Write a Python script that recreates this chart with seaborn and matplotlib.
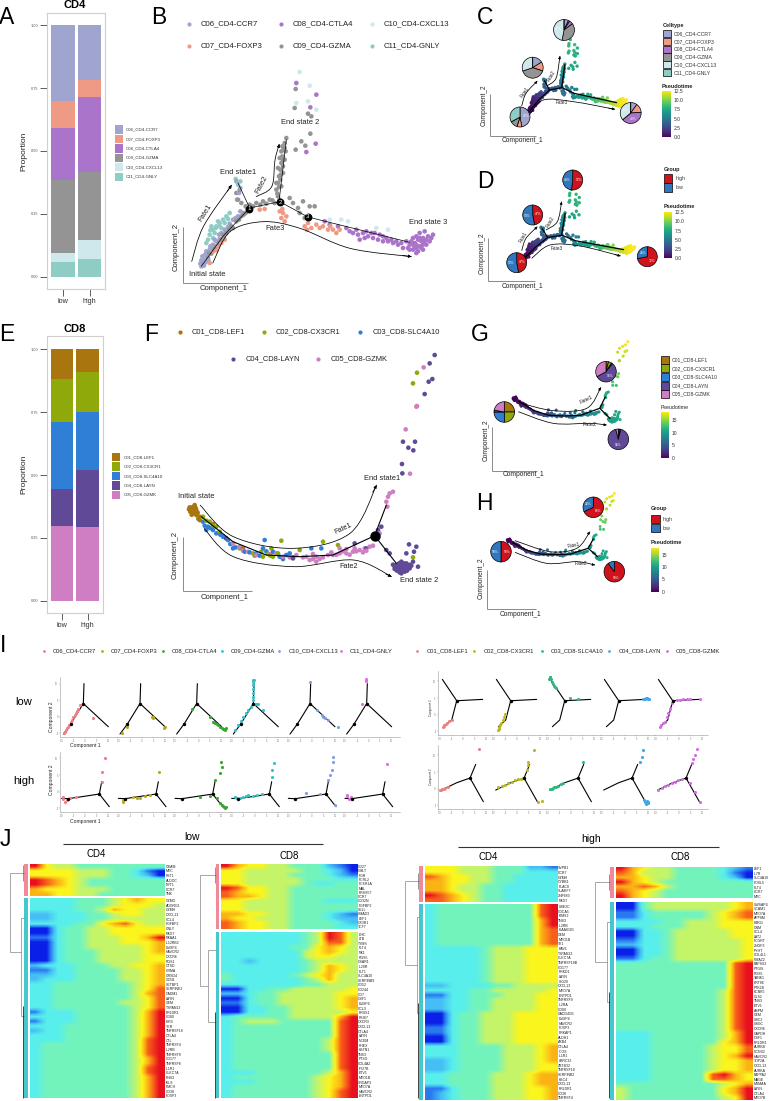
import numpy as np, pandas as pd
import matplotlib
matplotlib.use('Agg')
import matplotlib.pyplot as plt
import seaborn as sns
from matplotlib.colors import LinearSegmentedColormap, Normalize
from matplotlib.cm import ScalarMappable
from matplotlib.patches import Rectangle, PathPatch
from matplotlib.path import Path

sns.set_style('white')
plt.rcParams['font.family'] = ['Liberation Sans', 'DejaVu Sans']
W, H = 770, 1101

# ---------- stacked proportions ----------
GROUPS = ['low', 'high']
CD4_TYPES = ['C06_CD4-CCR7', 'C07_CD4-FOXP3', 'C08_CD4-CTLA4', 'C09_CD4-GZMA', 'C10_CD4-CXCL13', 'C11_CD4-GNLY']
CD4_COLORS = ['#9fa5cf', '#ef9a84', '#a974c9', '#949494', '#cfe8ec', '#8fcdc4']
CD4_LOW = [1.00, 0.70, 0.59, 0.385, 0.095, 0.06]
CD4_HIGH = [1.00, 0.782, 0.716, 0.415, 0.147, 0.072]
CD8_TYPES = ['C01_CD8-LEF1', 'C02_CD8-CX3CR1', 'C03_CD8-SLC4A10', 'C04_CD8-LAYN', 'C05_CD8-GZMK']
CD8_COLORS = ['#a9750f', '#8fa80a', '#2f7fd6', '#604a97', '#d07ec3']
CD8_LOW = [1.00, 0.883, 0.711, 0.443, 0.297]
CD8_HIGH = [1.00, 0.91, 0.75, 0.52, 0.295]

# ---------- CD4 trajectory cells (component 1, component 2, pseudotime) ----------
C06_CELLS = [(55,50,0.0),(60,60,0.2),(65,70,0.3),(58,80,0.3),(72,80,0.5),(70,95,0.5),(80,100,0.7),(90,115,0.9),(100,125,1.1),(115,150,1.4),
             (125,160,1.6),(140,178,2.0),(150,190,2.2),(165,200,2.6),(180,210,3.0),(195,220,3.3),(162,250,3.8),(168,270,4.2),(172,285,4.5),(160,305,4.9),
             (52,58,0.1),(63,52,0.1),(76,68,0.4),(85,88,0.7),(68,62,0.3),(110,132,1.3),(55,68,0.2),(66,85,0.4),(82,110,0.8),(95,130,1.1),(108,145,1.4),(135,168,1.9),(158,195,2.5),(172,215,3.0)]
C07_CELLS = [(230,220,3.8),(245,222,4.0),(300,210,4.6),(295,195,4.6),(305,185,4.9),(365,170,5.8),(375,180,5.9),(400,175,6.3),(420,170,6.6),(435,160,6.9),
             (450,160,7.1),(470,160,7.5),(460,150,7.3),(90,95,0.8),(105,110,1.1),(115,120,1.3),(80,60,0.5),(310,200,4.8),(385,165,6.0),(290,215,4.5),(298,222,4.4),(372,160,5.8),(410,165,6.5),(442,170,7.0),(100,98,1.0),(125,130,1.5)]
C08_CELLS = [(425,185,6.7),(440,175,7.0),(465,170,7.4),(490,165,7.8),(510,150,8.2),(525,145,8.5),(540,150,8.7),(555,140,9.0),(570,135,9.3),(585,130,9.6),
             (600,125,9.9),(615,125,10.2),(630,120,10.5),(645,115,10.8),(660,105,11.1),(675,105,11.4),(690,100,11.7),(700,105,12.0),(710,110,12.2),(720,115,12.4),
             (695,120,11.9),(705,130,12.1),(720,135,12.3),(735,140,12.5),(750,145,12.5),(725,155,12.4),(710,150,12.2),(690,135,11.9),(700,90,12.0),(720,100,12.3),
             (740,125,12.5),(680,115,11.5),(530,130,8.5),(550,155,8.9),(575,150,9.4),(600,140,9.9),(715,125,12.3),(730,115,12.4),(705,95,12.1),(690,115,11.8),
             (340,600,8.3),(400,565,8.2),(382,527,8.0),(370,393,7.4),(398,418,7.6),(500,155,8.0),(520,160,8.4),(545,135,8.8),(565,150,9.2),(590,145,9.7),(610,135,10.1),(625,130,10.4),(640,125,10.7),(655,120,11.0),(670,125,11.3),
             (685,125,11.6),(700,115,11.9),(715,105,12.2),(725,125,12.4),(710,135,12.2),(695,105,11.9),(730,130,12.4),(745,135,12.5),(700,140,12.0),(680,100,11.5)]
C09_CELLS = [(62,55,0.1),(75,75,0.4),(85,90,0.7),(100,110,1.1),(115,130,1.4),(130,150,1.8),(145,170,2.2),(160,185,2.6),(175,200,3.0),(188,210,3.3),
             (285,260,4.4),(280,280,4.6),(285,300,4.9),(288,320,5.2),(292,340,5.5),(295,360,5.8),(298,380,6.1),(302,400,6.4),(305,420,6.7),(310,435,7.0),
             (300,330,5.3),(295,290,4.8),(338,582,8.3),(335,525,8.0),(375,508,7.9),(385,500,7.9),(338,400,7.3),(355,425,7.5),(367,412,7.5),(382,448,7.7),
             (160,270,4.1),(165,250,3.8),(170,280,4.4),(175,240,3.6),(188,230,3.4),(220,240,3.8),(240,245,4.0),(260,250,4.1),(275,240,4.2),(210,230,3.6),
             (320,255,4.6),(330,240,4.7),(345,225,5.0),(360,245,5.2),(380,230,5.5),(395,230,5.7),(350,210,5.1),(365,195,5.4),(292,310,5.0),(300,350,5.6),
             (290,250,4.3),(305,370,6.0),(298,410,6.5),(78,90,0.6),(120,145,1.6),(150,165,2.3),(283,268,4.5),(288,288,4.8),(280,300,4.9),(293,325,5.3),(285,345,5.5),(300,368,5.9),(290,375,6.0),(308,395,6.4),(295,395,6.3),(305,405,6.5),
             (108,120,1.2),(92,102,0.9),(122,138,1.6),(138,160,2.0),(168,190,2.8),(182,205,3.1),(200,235,3.5),(232,235,3.9),(250,238,4.1),(268,248,4.2)]
C10_CELLS = [(350,633,8.6),(380,592,8.4),(340,540,8.1),(375,545,8.2),(400,520,8.0),(495,185,7.9),(580,165,9.5),(615,160,10.2),(475,190,7.6),(440,190,7.0)]
C11_CELLS = [(80,145,1.0),(90,160,1.3),(100,170,1.6),(110,180,1.9),(120,190,2.2),(130,200,2.5),(140,210,2.8),(115,165,1.8),(95,150,1.3),(70,120,0.7),
             (158,312,5.0),(172,305,4.9),(165,295,4.7),(90,135,1.1),(105,185,1.8),(85,170,1.2),(125,180,2.2),(75,130,0.8),(82,158,1.1),(98,165,1.5),(110,170,1.8),(135,192,2.5)]
CD4_BACKBONE_MAIN = [(55,50),(120,140),(200,225),(290,244),(375,198),(680,122)]
CD4_BACKBONE_UP = [(288,244),(310,430)]
CD4_BACKBONE_SIDE = [(200,225),(165,300)]

# ---------- CD8 trajectory cells ----------
C01_CELLS = [(25,244,0.0),(33,252,0.0),(40,242,0.1),(30,232,0.1),(22,237,0.0),(40,227,0.3),(50,222,0.5),(35,257,0.0),(18,244,0.0),(50,212,0.6),(90,200,1.3),(180,127,3.0),
             (28,250,0.0),(36,236,0.1),(44,234,0.2),(26,228,0.1),(32,240,0.0),(46,216,0.5),(20,250,0.0),(38,248,0.0)]
C02_CELLS = [(60,222,0.8),(80,207,1.2),(100,192,1.6),(110,177,1.9),(150,142,2.7),(170,127,3.2),(210,112,3.9),(235,117,4.5),(265,127,5.0),(295,150,5.5),(350,122,6.4),(420,147,7.6),
             (465,137,8.3),(690,100,10.8),(690,622,16.3),(702,654,17.0),(270,102,5.1),(240,102,4.6),(70,210,1.0),(90,195,1.4),(255,110,4.8),(262,105,5.0),(215,105,4.1),(285,112,5.4)]
C03_CELLS = [(60,207,0.9),(75,192,1.2),(70,182,1.3),(90,182,1.6),(120,162,2.2),(135,152,2.5),(150,127,3.0),(185,117,3.5),(220,112,4.2),(245,152,4.7),(270,117,5.2),(290,102,5.6),
             (310,107,5.9),(330,100,6.2),(240,127,4.6),(100,172,1.9),(385,127,7.0),(415,127,7.5),(230,105,4.4),(320,112,6.0),(65,195,1.1),(82,188,1.4),(112,168,2.0),(128,158,2.3),(142,140,2.7),(158,130,3.1),(200,115,3.8),(250,118,4.7),(300,95,5.8)]
C04_CELLS = [(755,707,18.0),(740,682,17.6),(748,635,17.0),(737,627,16.7),(725,590,16.2),(660,447,13.9),(696,447,14.0),(676,429,13.8),(691,421,13.7),(657,380,13.2),(658,352,12.8),(595,192,9.4),
             (585,182,9.2),(678,139,10.6),(700,132,10.8),(693,117,10.7),(670,112,10.5),(705,72,10.9),(690,87,10.7),(655,87,10.4),(645,77,10.3),(640,67,10.2),(650,62,10.3),(660,72,10.4),
             (670,82,10.5),(680,67,10.6),(665,57,10.4),(655,52,10.3),(640,77,10.2),(675,72,10.5),(635,72,10.2),(650,77,10.3),(665,72,10.4),(620,112,10.0),(610,122,9.8),(130,157,2.4),
             (330,97,6.2),(515,142,8.9),(550,127,9.2),(645,65,10.3),(660,60,10.4),(670,65,10.5),(655,68,10.4),(635,65,10.2),(680,78,10.6),(648,82,10.3),(662,82,10.4),(672,60,10.5),(642,60,10.2),(655,75,10.4),(685,75,10.6),(630,78,10.1),(665,65,10.4),(650,55,10.3)]
C05_CELLS = [(722,670,17.3),(702,554,15.6),(668,484,14.5),(681,351,12.7),(630,297,11.4),(615,282,11.0),(610,267,10.7),(613,252,10.4),(590,172,9.3),(560,132,9.0),(545,127,8.9),(530,122,8.7),
             (510,117,8.4),(490,112,8.0),(470,112,7.7),(450,107,7.4),(435,107,7.1),(400,102,6.6),(380,92,6.3),(400,87,6.6),(370,102,6.2),(340,107,5.7),(300,102,5.0),(280,112,5.3),
             (220,107,4.1),(195,117,3.7),(170,132,3.2),(150,142,2.7),(515,127,8.5),(470,127,7.8),(700,552,15.5),(620,292,11.2),(490,125,8.1),(540,115,8.7),(420,100,6.9),
             (445,115,7.3),(460,108,7.5),(480,118,7.9),(500,108,8.2),(520,118,8.6),(550,120,8.9),(570,135,9.1),(390,95,6.5),(410,95,6.8),(390,110,6.6),(360,100,6.0),(320,100,5.4),(260,110,4.9),(180,120,3.4)]
CD8_BACKBONE_MAIN = [(55,222),(150,147),(250,107),(350,102),(450,107),(575,165)]
CD8_BACKBONE_UP = [(575,165),(610,257)]
CD8_BACKBONE_DOWN = [(575,165),(640,82)]

# ---------- pie fractions ----------
PIE_C_ROOT = [0.47, 0.08, 0.0, 0.12, 0.0, 0.33]
PIE_C_END1 = [0.16, 0.14, 0.0, 0.40, 0.30, 0.0]
PIE_C_END2 = [0.07, 0.02, 0.06, 0.38, 0.47, 0.0]
PIE_C_END3 = [0.10, 0.14, 0.40, 0.0, 0.36, 0.0]
PIE_D_ROOT = [0.47, 0.53]
PIE_D_END1 = [0.47, 0.53]
PIE_D_END2 = [0.52, 0.48]
PIE_D_END3 = [0.72, 0.28]
PIE_G_ROOT = [0.25, 0.25, 0.25, 0.03, 0.22]
PIE_G_END1 = [0.04, 0.05, 0.02, 0.56, 0.33]
PIE_G_END2 = [0.01, 0.02, 0.01, 0.92, 0.04]
PIE_H_ROOT = [0.50, 0.50]
PIE_H_END1 = [0.68, 0.32]
PIE_H_END2 = [0.90, 0.10]
GROUP_LABELS = ['high', 'low']
GROUP_COLORS = ['#d0121b', '#2f78bd']

# ---------- panel I small multiples ----------
I_CD4_COLORS = ['#ee7f85', '#b8a820', '#3aa535', '#35c0c8', '#7f9fe0', '#e070e0']
I_CD8_COLORS = ['#f08080', '#b8b820', '#30b880', '#40a8e8', '#d070e0']
I4L_PATHS = [[(10,8),(32,38),(70,100),(72,160)], [(70,100),(145,30)]]
I4L_NODES = [(32,38),(70,100)]
I4L_CELLS = [
    [(12,10),(18,20),(25,30),(32,45),(40,58),(48,72),(55,85),(60,95),(100,55),(15,14),(22,25),(28,36),(36,50),(44,65),(52,78)],
    [(15,10),(32,35),(105,60),(110,55),(142,25),(145,28),(108,58),(30,30)],
    [(55,85),(110,60),(120,45),(135,35),(145,25),(152,22),(158,25),(140,30),(125,42),(130,38),(148,24),(155,20)],
    [(70,165),(70,145),(70,120),(72,100),(55,80),(40,60),(100,80),(25,35),(15,20),(85,98),(72,170),(70,155),(70,132),(70,110),(62,90),(48,70),(32,48),(78,100),(68,172)],
    [(70,165),(105,65),(115,55),(90,80),(155,30),(125,50),(110,60)],
    [(67,175),(68,167),(55,100),(70,100),(69,171)]]
I4H_PATHS = [[(5,40),(25,39),(65,45),(118,53),(125,90)], [(118,53),(148,15)]]
I4H_NODES = [(25,39),(118,53)]
I4H_CELLS = [
    [(8,45),(15,30),(20,35),(30,42),(48,45),(10,38),(125,90),(127,120),(136,160)],
    [(20,35),(50,43),(70,42),(100,50),(128,120),(20,30),(60,42),(85,46)],
    [(80,43),(110,47),(125,95),(140,115),(142,150),(145,135),(130,40),(145,20),(152,13),(158,15),(140,27),(150,18),(155,12)],
    [(15,45),(40,45),(55,49),(95,52),(125,105),(132,145),(125,125),(30,40),(22,42),(48,47),(70,48),(82,50)],
    [(58,55),(100,53),(125,95),(135,125),(138,150),(140,165),(145,20),(130,110)],
    [(10,47),(18,37),(12,50),(130,142),(22,43)]]
I8L_PATHS = [[(14,166),(57,102)], [(57,102),(135,106)], [(57,102),(42,44),(20,24)]]
I8L_NODES = [(57,102)]
I8L_CELLS = [
    [(15,22),(20,28),(28,35),(35,42),(42,45),(18,25),(24,32)],
    [(20,14),(25,29),(33,44),(40,62),(23,22),(28,36),(36,52),(21,18)],
    [(13,174),(11,168),(18,159),(25,146),(31,139),(73,109),(98,106),(15,166),(21,152),(12,172),(28,142)],
    [(136,108),(143,109),(129,107),(149,108),(133,107),(140,109),(146,108)],
    [(19,24),(34,39),(44,64),(54,94),(69,104),(89,106),(109,106),(139,108),(21,29),(28,34),(40,52),(48,78),(79,105),(99,106)]]
I8H_PATHS = [[(12,56),(57,78),(97,92)], [(97,92),(114,133)], [(97,92),(137,21)]]
I8H_NODES = [(97,92)]
I8H_CELLS = [
    [(8,55),(14,58),(22,62),(30,66),(125,179),(11,56),(18,60)],
    [(20,64),(40,71),(60,81),(80,88),(95,91),(107,116),(110,141),(110,131),(127,176),(140,21),(150,23),(30,68),(50,76),(70,85),(88,90)],
    [(13,58),(23,63),(38,69),(53,76),(111,141),(18,60),(30,66),(45,73),(16,58),(26,65)],
    [(121,141),(126,156),(131,176),(136,21),(141,16),(146,21),(133,26),(141,24),(138,19),(144,18),(139,13)],
    [(14,56),(34,68),(54,76),(74,86),(114,136),(124,161),(131,178),(109,76),(124,51),(139,21),(24,62),(44,72),(64,80),(84,88),(118,148)]]

# ---------- panel J heat maps: one digit per pseudotime bin, 0 = low ... 9 = high ----------
J1_TOP_GENES = ['ODAM','MYC','FST1','ALDOC','NPT1','CCR7','TNK']
J1_TOP_ROWS = ['965544444444','666655544310','666655544320','987654444444','987654444444','766655544444','776655444444']
J1_BOT_GENES = ['GZMO','ADGRG1','GZMH','CXCL13','CCL4','FGFBP2','GNLY','NKG7','NKAA1','IL12RB2','DUSP4','HAVCR2','CXCR6','RGS1','CTSD','CRMA','GRSD4','GCN1','SETBP1','SERPINE2','CADM1','LAYN','GEM','TSPAN13','PRLDR1','CD80','KIR3','YER','TNFRSF18','CTLA4','CTL','TNFRSF4','IL2RB','TNFRSF9','CD177','TNFRSF8','IL1R1','CLEC7A','PNS3','IKLS','PMCH','CD38','FOXP3']
J1_BOT_ROWS = ['333344456766','333344456665','333344576655','223334456655','223334455555','333344678655','003445566666','003445566666','113445556679','003445556667',
               '003445555567','003444555567','003444555566','003444555566','233344455667','113344445567','223344445567','233344445567','334444444567','334444444568',
               '334444444578','334444444568','334444445568','334444444568','133344444579','333344444579','133344444579','333444444579','233444444579','333444444579',
               '333444444589','344444444589','344444444589','344444444589','344444444579','344444444579','344444444589','344444444589','344444444579','344444444579',
               '344444444579','344444444579','344444444579']
J2_TOP_GENES = ['CD27','CMLT','FGR','FCRL2','FCER1A','MAL','PRSS57','CCR7','CD32N','FGFBP2','SELL','SMAD3','LEF1','CX3R1','TCF7']
J2_TOP_ROWS = ['976655444210','665555544320','665555444321','665555544433','665555543344','986655444444','876655444444','877655444444','665555444333','665555444444','665555444444','776655444321','766555444322','876655444432','876655444433']
J2_BOT_GENES = ['DHC','LTB','TYMS','FLT4','NK1','RGS5','CSAR1','IL20R','FLT1','SLC4A10','SERPINB9','CD52','CD244','CD7','CSF1','DUSP4','CCL3','PRSS1','PSIS7','CXCR3','CXCL13','CTLA4','LAYN','NCEM','PHEX','KSTN1','TNS3','PTSG','COL4A2','IFI27B','ETV1','MYO1B','SRGAP3','MYO7A','HAVCR2','ENTPD1']
J2_BOT_ROWS = ['333333345985','333333345985','333333345885','333333446765','333333356765','333333356655','332333345555','333333345765','333333345765','433333456755',
               '433333345755','333333344555','003344555556','223445555566','003445555567','113445555567','003344555567','003344555556','344444555579','345554444489',
               '344444444489','344444444489','344444444489','344444444589','344444444589','344444444589','344444444489','344444444489','344444444489','344444444489',
               '333444444579','344444445679','333444445679','344444445679','344444445689','344444445689']
J3_TOP_GENES = ['SVPB1','CCR7','GZMH','CYBB1','PLAC8','SLAMF7','ZNF683','NKG7']
J3_TOP_ROWS = ['666555444221','666555444333','876655443333','776655443333','776554433333','776554433333','987654433333','887654433333']
J3_BOT_GENES = ['UBE2C','CDCA5','PIMS2','TNS3','IL2RB','KIAA0101','GEM','MYO1B','TK1','EAV1','TSPAN13','CLEC7A','TNFRSF18B','CD177','PRKD1','LAYN','ISG20','CXCL13','MYO7A','ENTPD1','TNFRSF9','IL2RA','CD80','GADD45G','DUSP4','HAVCR2','FOXP3','PRKAP1','ALDH1','AXB4','CTLA4','ICOS','IL1R1','LRRC32','ZBTB32','TNFRSF18','SERPINB2','KSC4','CXCL13','PRLDR1','CD38','TNFRSF4']
J3_BOT_ROWS = ['344444444489','344444444489','344444444489','344444444479','344444444479','344444444478','344444444478','344444444478','344444444478','333334555666',
               '333334555666','333334555666','333334555666','333334555666','333334555666','333334555666','333334555666','223333445555','333344555556','113344455566',
               '223344555566','223344555566','223344555566','003445556666','003445556666','003445556666','113445556666','113445556666','003445556666','003445556666',
               '333444455567','333444455567','333444455567','223444455567','223444455566','223444455566','334444555677','334444555677','334444555677','113444555667',
               '123444555667','123444555667']
J4_TOP_GENES = ['LEF1','IL7R','SLC4A10','FOXL5','FLT4','CCR7','MYC']
J4_TOP_ROWS = ['976554444321','875554444310','776554444320','976544444444','778754444444','876544444444','976544444444']
J4_BOT_GENES = ['SWSAP4','VCAM1','MYO7A','APP8M','HMG1','GNM','CCL4','LAT2','FCGRT','ZNGP3','PYHT','COL4L1','NMAZ2','PAPSS2','PTGIS','RGS5','TANK1','KRT86','PTK2B','KCNK5','GLS2','TNS3','ETV1','ASPM','GEM','UBC2','UBGC','CXCR6','GAPDH','CSF1','PRLDR1','AURKB','CCNB2','HAVCR2','TOP2A','CXCL13','AURKA','PAPPA2','MAGE','MSMAA','LAYN','CTLA4','MYO7B']
J4_BOT_ROWS = ['004555555567','004555555567','113444445678','113444445678','333344555666','333444555666','003345555566','003345555566','113345555556','223345555556',
               '003345555556','003345555556','113445555556','444444444489','444444444489','444444444489','444444444489','444444444489','444444444489','444444444589',
               '444444444589','444444444589','444444444589','444444444589','444444444589','444444444589','444444444589','444444444589','333444444579','333444444579',
               '333444444679','333444445668','333444445668','333444445679','333444445667','333444445667','333444445667','333444448976','333444448876','444444444567',
               '544444444679','544444444679','544444444569']
JET = ['#0a1fe8','#2a7af0','#45c0f5','#58eeec','#74f4bc','#c4f468','#fbf51e','#fbb515','#f8601a','#e8101e']

fig = plt.figure(figsize=(W/100, H/100), dpi=100)
def box(x0, y0, x1, y1, **kw):
    ax = fig.add_axes([x0/W, 1-y1/H, (x1-x0)/W, (y1-y0)/H], **kw)
    ax.patch.set_alpha(0)
    return ax

# ---------- stacked bars ----------
def stacked(frame, types, colors, low, high, xlim, ylim, width):
    ax = box(*frame)
    df = pd.DataFrame({'group': [g for g in GROUPS for _ in types], 'type': types*2, 'cum': list(low)+list(high)})
    sns.barplot(data=df, x='group', y='cum', hue='type', hue_order=types, order=GROUPS, palette=colors,
                dodge=False, width=width, ax=ax, legend=False, saturation=1, errorbar=None, linewidth=0)
    ax.set_xlim(*xlim); ax.set_ylim(*ylim)
    ax.set_xlabel(''); ax.set_ylabel('Proportion', fontsize=6, labelpad=2.5, color='#222')
    ax.set_yticks([0,.25,.5,.75,1]); ax.set_yticklabels(['0.00','0.25','0.50','0.75','1.00'])
    ax.tick_params(axis='y', length=5, width=.6, color='#444', labelsize=2.8, labelcolor='#555', left=True, pad=1)
    ax.tick_params(axis='x', length=5, width=.6, color='#444', labelsize=5.2, labelcolor='#333', bottom=True, pad=1.5)
    for s in ax.spines.values():
        s.set_color('#cfcfcf'); s.set_linewidth(.8)
    return ax

stacked((47,13,105,289), CD4_TYPES, CD4_COLORS, CD4_LOW, CD4_HIGH, (-.589,1.579), (-.049,1.049), .88)
stacked((47,336,102.7,613), CD8_TYPES, CD8_COLORS, CD8_LOW, CD8_HIGH, (-.60,1.60), (-.049,1.053), .89)

def frame(cells_by_type):
    rows = []
    for name, cells in cells_by_type.items():
        rows += [(name, a, b, c) for a, b, c in cells]
    return pd.DataFrame(rows, columns=['type','c1','c2','pt'])
CD4_DF = frame(dict(zip(CD4_TYPES, [C06_CELLS, C07_CELLS, C08_CELLS, C09_CELLS, C10_CELLS, C11_CELLS])))
CD8_DF = frame(dict(zip(CD8_TYPES, [C01_CELLS, C02_CELLS, C03_CELLS, C04_CELLS, C05_CELLS])))
CD4_DF = CD4_DF.sort_values('c1', kind='stable')
CD8_DF = CD8_DF.sort_values('c1', kind='stable')

def backbone(ax, paths, color='k', lw=.7):
    for p in paths:
        a = np.array(p)
        sns.lineplot(x=a[:,0], y=a[:,1], sort=False, estimator=None, color=color, lw=lw, ax=ax, legend=False)

def traj(rect, df, paths, xmax, ymax, s, by_type=None, ptmax=12.5, lw=.7):
    ax = box(*rect)
    if by_type is not None:
        sns.scatterplot(data=df, x='c1', y='c2', hue='type', palette=by_type, s=s, linewidth=0, ax=ax, legend=False)
    else:
        sns.scatterplot(data=df, x='c1', y='c2', hue='pt', palette='viridis', hue_norm=(0,ptmax), s=s, linewidth=0, ax=ax, legend=False)
    backbone(ax, paths, lw=lw)
    ax.set_xlim(0, xmax); ax.set_ylim(0, ymax); ax.axis('off')
    return ax

CD4_PATHS = [CD4_BACKBONE_MAIN, CD4_BACKBONE_UP, CD4_BACKBONE_SIDE]
CD8_PATHS = [CD8_BACKBONE_MAIN, CD8_BACKBONE_UP, CD8_BACKBONE_DOWN]
traj((183,63,443,283), CD4_DF, CD4_PATHS, 780, 660, 11, dict(zip(CD4_TYPES, CD4_COLORS)), lw=.5)
traj((521.5,36.3,630.5,117.7), CD4_DF, CD4_PATHS, 780, 660, 6, ptmax=12.5, lw=.9)
traj((516.1,186.3,639.3,264), CD4_DF, CD4_PATHS, 780, 660, 6, ptmax=12.5, lw=.9)
axF = traj((183,350.7,443,590.7), CD8_DF, CD8_PATHS, 780, 720, 11, dict(zip(CD8_TYPES, CD8_COLORS)), lw=.8)
axF.scatter([575],[165], s=42, c='k', zorder=5)
traj((510.3,340.2,631.7,428.5), CD8_DF, CD8_PATHS, 780, 720, 5, ptmax=18, lw=.9)
traj((504.6,492,618,565), CD8_DF, CD8_PATHS, 780, 720, 4.5, ptmax=18, lw=.9)

# ---------- pies ----------
def pie(cx, cy, r, vals, cols, minpct=30):
    ax = box(cx-r-.5, cy-r-.5, cx+r+.5, cy+r+.5)
    ax.pie(vals, colors=cols, startangle=90, counterclock=False, radius=1,
           wedgeprops=dict(edgecolor='k', linewidth=.5),
           autopct=lambda p: f'{p:.0f}%' if p >= minpct else '', pctdistance=.6,
           textprops=dict(color='white', fontsize=2.3))
    ax.set_xlim(-1.05,1.05); ax.set_ylim(-1.05,1.05)
pie(520,117,10,PIE_C_ROOT,CD4_COLORS,45); pie(532.7,67.7,10.5,PIE_C_END1,CD4_COLORS,45); pie(564,30,10.5,PIE_C_END2,CD4_COLORS,45); pie(630.7,113,10.5,PIE_C_END3,CD4_COLORS,35)
pie(516.7,262.7,10,PIE_D_ROOT,GROUP_COLORS,1); pie(532.7,215,10,PIE_D_END1,GROUP_COLORS,1); pie(572.7,180,10,PIE_D_END2,GROUP_COLORS,1); pie(647.3,256.7,10,PIE_D_END3,GROUP_COLORS,1)
pie(504.3,412,10.3,PIE_G_ROOT,CD8_COLORS,60); pie(606,371.7,10.3,PIE_G_END1,CD8_COLORS,50); pie(618.3,439.3,10.3,PIE_G_END2,CD8_COLORS,50)
pie(501,551.7,10.3,PIE_H_ROOT,GROUP_COLORS,1); pie(593.3,507.3,10.3,PIE_H_END1,GROUP_COLORS,1); pie(614.3,571.7,10.3,PIE_H_END2,GROUP_COLORS,50)

# ---------- colorbars ----------
def cbar(x0,y0,x1,y1,vmax,ticks):
    ax = box(x0,y0,x1,y1)
    cb = fig.colorbar(ScalarMappable(Normalize(0,vmax),'viridis'), cax=ax, ticks=ticks)
    cb.outline.set_visible(False)
    cb.ax.tick_params(labelsize=3.6, length=0, pad=2, labelcolor='#333')
cbar(661.7,90.7,670.7,137.3,12.5,[0,2.5,5,7.5,10,12.5])
cbar(664,212,672.3,258.3,12.5,[0,2.5,5,7.5,10,12.5])
cbar(660.7,412,669,458.3,18,[0,5,10,15])
cbar(650.7,547.7,659,591.7,18,[0,5,10,15])

# ---------- panel I ----------
def facet(x0, y0, y1, w, ymax, paths, nodes, cells, col, first, s=5):
    ax = box(x0, y0, x0+w, y1)
    backbone(ax, paths, lw=.8)
    a = np.array(cells)
    sns.scatterplot(x=a[:,0], y=a[:,1], color=col, s=s, linewidth=0, ax=ax, legend=False, zorder=3)
    n = np.array(nodes)
    sns.scatterplot(x=n[:,0], y=n[:,1], color='k', s=6, linewidth=0, ax=ax, legend=False, zorder=4)
    ax.set_xlim(0, w*3); ax.set_ylim(0, ymax)
    ax.set_xticks([5,40,75,110,145]); ax.set_xticklabels(['-10','-5','0','5','10'])
    ax.tick_params(axis='x', length=1, width=.3, labelsize=1.8, pad=.4, color='#888', labelcolor='#777', bottom=True)
    for k in ('top','right'):
        ax.spines[k].set_visible(False)
    ax.spines['left'].set_visible(first)
    ax.spines['left'].set_color('#999'); ax.spines['left'].set_linewidth(.4)
    ax.spines['bottom'].set_color('#999'); ax.spines['bottom'].set_linewidth(.4)
    if first:
        ax.set_yticks([10,60,110,160]); ax.set_yticklabels(['-5','0','5','10'])
        ax.tick_params(axis='y', length=1, width=.3, labelsize=1.8, pad=.4, color='#888', labelcolor='#777', left=True)
    else:
        ax.set_yticks([])
    ax.set_xlabel(''); ax.set_ylabel('')

for k in range(6):
    facet(60+k*170/3, 677, 736.7, 170/3, 180, I4L_PATHS, I4L_NODES, I4L_CELLS[k], I_CD4_COLORS[k], k==0)
    facet(60+k*170/3, 751.7, 811.7, 170/3, 180, I4H_PATHS, I4H_NODES, I4H_CELLS[k], I_CD4_COLORS[k], k==0)
for k in range(5):
    facet(437.7+k*54, 671.4, 734.7, 54, 190, I8L_PATHS, I8L_NODES, I8L_CELLS[k], I_CD8_COLORS[k], k==0)
    facet(437.7+k*54, 745.4, 808.7, 54, 190, I8H_PATHS, I8H_NODES, I8H_CELLS[k], I_CD8_COLORS[k], k==0)

# ---------- panel J ----------
cmap_j = LinearSegmentedColormap.from_list('jetlike', JET)
def heat(rect, genes, rows):
    ax = box(*rect)
    M = np.array([[int(c) for c in r] for r in rows], dtype=float)
    sns.heatmap(M, ax=ax, cmap=cmap_j, vmin=0, vmax=9, cbar=False, xticklabels=False, yticklabels=genes)
    ax.collections[0].set_visible(False)
    ax.imshow(M, aspect='auto', extent=(0,M.shape[1],M.shape[0],0), interpolation='bilinear', cmap=cmap_j, vmin=0, vmax=9)
    ax.set_xlim(0,M.shape[1]); ax.set_ylim(M.shape[0],0)
    ax.yaxis.tick_right()
    ax.tick_params(axis='y', length=0, labelsize=2.5, pad=.7, labelrotation=0, labelcolor='#222')
    for lab in ax.get_yticklabels():
        lab.set_rotation(0)
heat((30,864,165,896), J1_TOP_GENES, J1_TOP_ROWS); heat((30,898.3,165,1098.3), J1_BOT_GENES, J1_BOT_ROWS)
heat((221,864.3,357.3,929), J2_TOP_GENES, J2_TOP_ROWS); heat((221,931.7,357.3,1098.3), J2_BOT_GENES, J2_BOT_ROWS)
heat((425,865.7,557.3,902.3), J3_TOP_GENES, J3_TOP_ROWS); heat((425,904.3,557.3,1100), J3_BOT_GENES, J3_BOT_ROWS)
heat((615.7,866.7,752.7,898.3), J4_TOP_GENES, J4_TOP_ROWS); heat((615.7,901.7,752.7,1100), J4_BOT_GENES, J4_BOT_ROWS)

# ---------- overlay: labels, arrows, legends ----------
ov = fig.add_axes([0,0,1,1], zorder=50)
ov.set_xlim(0,W); ov.set_ylim(H,0); ov.axis('off'); ov.patch.set_alpha(0)
def T(x,y,s,fs=6,ha='center',va='center',rot=0,col='#222',**k):
    ov.text(x,y,s,fontsize=fs,ha=ha,va=va,rotation=rot,color=col,**k)
def Lseg(x0,y0,x1,y1,col='#777',lw=.6):
    ov.plot([x0,x1],[y0,y1],color=col,lw=lw,solid_capstyle='butt')
def corner(x,ytop,ybot,xr):
    Lseg(x,ytop,x,ybot); Lseg(x,ybot,xr,ybot)
def curve(pts, lw=.55, ms=4.5):
    # smooth guide arrow through annotation anchor points (reference-image pixels)
    p = np.array(pts, float)
    v = [Path.MOVETO]; q = [p[0]]
    for i in range(len(p)-1):
        a = p[max(i-1,0)]; b = p[i]; c = p[i+1]; d = p[min(i+2,len(p)-1)]
        q += [b+(c-a)/6, c-(d-b)/6, c]; v += [Path.CURVE4]*3
    ov.add_patch(PathPatch(Path(q,v), fill=False, lw=lw, ec='k'))
    ov.annotate('', xy=p[-1], xytext=p[-1]-(p[-1]-q[-2])*.9, arrowprops=dict(arrowstyle='-|>', lw=lw, color='k', mutation_scale=ms, shrinkA=0, shrinkB=0))
Z = lambda ox, oy, pts: [(ox+a/3, oy+b/3) for a,b in pts]

for x,y,s in [(7,18,'A'),(159,17,'B'),(485,18,'C'),(485,181,'D'),(7,334.5,'E'),(151,334.5,'F'),(480,334.5,'G'),(484,503,'H'),(3.5,646,'I'),(5,840,'J')]:
    T(x,y,s,fs=16.5,col='k')
T(75,5,'CD4',fs=8,fontweight='bold',col='k'); T(75,329.5,'CD8',fs=8,fontweight='bold',col='k')

def legend_keys(x0,x1,ytop,step,h,names,cols,tx,fs,ec=None):
    for i,(n,c) in enumerate(zip(names,cols)):
        ov.add_patch(Rectangle((x0,ytop+i*step),x1-x0,h,fc=c,ec=ec or 'none',lw=.5))
        T(tx,ytop+i*step+h/2,n,fs=fs,ha='left',col='#333')
legend_keys(115,123,125.3,9.45,8.3,CD4_TYPES,CD4_COLORS,126,3.2)
legend_keys(112,120,453,9.4,8.3,CD8_TYPES,CD8_COLORS,124,3.2)
legend_keys(663.3,671,30,7.8,7.2,CD4_TYPES,CD4_COLORS,673.5,3.7,ec='k')
T(663,26,'Celltype',fs=4,ha='left',fontweight='bold')
T(661.7,86,'Pseudotime',fs=4,ha='left',fontweight='bold')
legend_keys(664,671.7,174,9.2,8.8,GROUP_LABELS,GROUP_COLORS,675.3,3.7,ec='k')
T(664,169,'Group',fs=4,ha='left',fontweight='bold')
T(664,207,'Pseudotime',fs=4,ha='left',fontweight='bold')
legend_keys(660.7,668.7,355.7,8.65,8,CD8_TYPES,CD8_COLORS,672,3.7,ec='k')
T(660.3,407.7,'Pseudotime',fs=3.8,ha='left')
legend_keys(651.3,660,514.7,9,8.6,GROUP_LABELS,GROUP_COLORS,662.7,3.7,ec='k')
T(651,508.7,'Group',fs=4,ha='left',fontweight='bold')
T(651,542.3,'Pseudotime',fs=4,ha='left',fontweight='bold')

def dotlegend(items, size=6, ms=5):
    for dx,tx,y,name,col in items:
        ov.scatter([dx],[y],s=ms,c=col,linewidths=0)
        T(tx,y,name,fs=size,ha='left',col='#222')
dotlegend([(189,201,24,CD4_TYPES[0],CD4_COLORS[0]),(281,293,24,CD4_TYPES[2],CD4_COLORS[2]),(372,384,24,CD4_TYPES[4],CD4_COLORS[4]),
           (189,201,46,CD4_TYPES[1],CD4_COLORS[1]),(281,293,46,CD4_TYPES[3],CD4_COLORS[3]),(372,384,46,CD4_TYPES[5],CD4_COLORS[5])], size=5.6, ms=9)
dotlegend([(180,192,332,CD8_TYPES[0],CD8_COLORS[0]),(264,276,332,CD8_TYPES[1],CD8_COLORS[1]),(360,372.3,332,CD8_TYPES[2],CD8_COLORS[2]),
           (233.3,246,359,CD8_TYPES[3],CD8_COLORS[3]),(318,330.7,359,CD8_TYPES[4],CD8_COLORS[4])], size=5.4, ms=9)
dotlegend([(d,t,651.3,CD4_TYPES[i],I_CD4_COLORS[i]) for i,(d,t) in enumerate(zip([44.3,102,163.3,221.7,279.3,340.7],[52.7,110.7,172,230.7,288.3,349.3]))], size=4.2, ms=4)
dotlegend([(d,t,650.7,CD8_TYPES[i],I_CD8_COLORS[i]) for i,(d,t) in enumerate(zip([417.3,474.3,541.7,609,666.7],[426.7,483.7,550.7,618.3,675.7]))], size=4.2, ms=4)

# panel B annotations
corner(183,227,283,248)
T(224,289,'Component_1',fs=5.5); T(176,247,'Component_2',fs=5.5,rot=90)
T(238,172,'End state1',fs=5.4); T(300,123,'End state 2',fs=5.4); T(428,223,'End state 3',fs=5.4); T(207,275,'Initial state',fs=5.4)
T(205,213,'Fate1',fs=5.4,rot=58); T(262,185,'Fate2',fs=5.4,rot=62); T(275,228,'Fate3',fs=5.4)
for x,y,s in [(249,209,'1'),(280,202,'2'),(308,217,'3')]:
    ov.scatter([x],[y],s=32,c='k',zorder=6,linewidths=0)
    T(x,y,s,fs=4.6,col='white',zorder=7)
curve(Z(0,0,[(575,785),(610,680),(695,555)]))
curve(Z(0,0,[(768,590),(815,560),(825,480),(838,432)]))
curve(Z(0,0,[(638,790),(690,695),(790,665),(900,685),(1050,745),(1235,770)]))
# panel C
corner(490,94,136,535.7); T(522,141,'Component_1',fs=4.8); T(484,105,'Component_2',fs=4.8,rot=90)
T(525,92.7,'Fate1',fs=3.3,rot=55); T(551.7,76,'Fate2',fs=3.3,rot=60); T(561.7,102.7,'Fate3',fs=3.3)
curve(Z(440,0,[(245,318),(258,280),(292,243)]),ms=3.5); curve(Z(440,0,[(320,258),(348,235),(360,168)]),ms=3.5)
curve(Z(440,0,[(268,345),(310,300),(400,305),(525,328)]),ms=3.5)
# panel D
corner(488.3,238.3,280.7,535); T(522.7,286,'Component_1',fs=4.8); T(482,253,'Component_2',fs=4.8,rot=90)
T(523,236.7,'Fate1',fs=3.3,rot=60); T(550,221.7,'Fate2',fs=3.3,rot=60); T(557,248.3,'Fate3',fs=3.3)
curve(Z(440,0,[(245,752),(258,715),(292,680)]),ms=3.5); curve(Z(440,0,[(318,690),(352,665),(365,605)]),ms=3.5)
curve(Z(440,0,[(275,775),(330,735),(420,738),(542,768)]),ms=3.5)
# panel F
corner(183,536.7,590.7,251.7); T(225,597.7,'Component_1',fs=5.5); T(175,555,'Component_2',fs=5.5,rot=90)
T(196,496.7,'Initial state',fs=5.4); T(382,478.7,'End state1',fs=5.4); T(419,580,'End state 2',fs=5.4)
T(342.7,529,'Fate1',fs=5.2,rot=25); T(349,567,'Fate2',fs=5.2)
curve(Z(0,300,[(600,615),(700,710),(880,745),(1050,700),(1130,555)]))
curve(Z(0,300,[(612,685),(700,770),(880,800),(1060,780),(1175,830)]))
# panel G
corner(492.3,427,470.7,537); T(523,475,'Component_1',fs=4.8); T(485.7,440,'Component_2',fs=4.8,rot=90)
T(586,400,'Fate1',fs=4,rot=25); T(589,424,'Fate2',fs=4)
curve(Z(440,300,[(237,308),(340,332),(440,325),(483,262)]),ms=3.5); curve(Z(440,300,[(235,335),(340,370),(450,370),(500,375)]),ms=3.5)
# panel H
corner(487,570,609,536); T(520,614,'Component_1',fs=4.8); T(481,578,'Component_2',fs=4.8,rot=90)
T(573.3,545,'Fate1',fs=3.5,rot=10); T(580.7,563.3,'Fate2',fs=3.5)
curve(Z(440,300,[(225,722),(330,755),(410,745),(450,695)]),ms=3.5); curve(Z(440,300,[(225,757),(320,790),(410,785),(465,795)]),ms=3.5)
# panel I labels
T(24,702,'low',fs=8,col='k'); T(24,781,'high',fs=8,col='k')
T(85,745,'Component 1',fs=3.6); T(52,717,'Component 2',fs=3.6,rot=90)
T(85,821,'Component 1',fs=3.6); T(52,780,'Component 2',fs=3.6,rot=90)
T(430.7,708,'Component 2',fs=2,rot=90); T(430.7,776.7,'Component 2',fs=2,rot=90)
# panel J headers
Lseg(63,844,323,844,col='#333',lw=.8); T(192,837.5,'low',fs=7.5,col='k')
Lseg(458,846.7,719,846.7,col='#333',lw=.8); T(591,839,'high',fs=7.5,col='k')
T(96,854,'CD4',fs=7,col='k'); T(289,855.7,'CD8',fs=7,col='k'); T(488,856.7,'CD4',fs=7,col='k'); T(680,856.7,'CD8',fs=7,col='k')
def stripe(x0,x1,y0,y1,y2,y3):
    ov.add_patch(Rectangle((x0,y0),x1-x0,y1-y0,fc='#f08a9a',ec='none'))
    ov.add_patch(Rectangle((x0,y2),x1-x0,y3-y2,fc='#45c8cc',ec='none'))
stripe(24.3,27.7,864,896,898.3,1098.3); stripe(215.7,219,864.3,929,931.7,1098.3)
stripe(419,422.7,865.7,902.3,904.3,1100); stripe(610,614,866.7,898.3,901.7,1100)
def dendro(xm,yt,yb,xs,xc,yct,ycb):
    Lseg(xm,yt,xm,yb,col='#666',lw=.4); Lseg(xm,yt,xs,yt,col='#666',lw=.4); Lseg(xm,yb,xc,yb,col='#666',lw=.4)
    Lseg(xc,yct,xc,ycb,col='#666',lw=.4); Lseg(xc,yct,xs,yct,col='#666',lw=.4); Lseg(xc,ycb,xs,ycb,col='#666',lw=.4)
    Lseg(xs-.6,ycb-10,xs-.6,1098,col='#222',lw=.6)
    Lseg(xs-.6,yt-8,xs-.6,yt+8,col='#444',lw=.4)
dendro(10,873,951.7,24,21,918,1016); dendro(200,875,986,215.5,208.3,950,1021.7)
dendro(405,881,965,419,416.7,916.7,1013); dendro(595,881.7,961.7,610,606.7,921.7,1001.7)

fig.savefig('out.png', dpi=100)
